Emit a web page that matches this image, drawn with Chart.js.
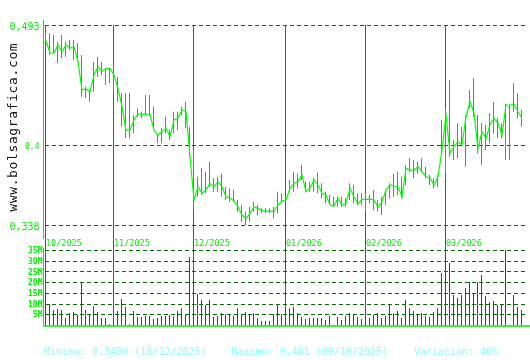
<!DOCTYPE html>
<html>
<head>
<meta charset="utf-8">
<script src="https://cdn.jsdelivr.net/npm/chart.js@4.4.1/dist/chart.umd.min.js"></script>
<style>
  html, body { margin: 0; padding: 0; background: #fff; }
  #wrap { width: 530px; height: 360px; }
</style>
</head>
<body>
<div id="wrap"><canvas id="chart" width="530" height="360"></canvas></div>
<script>
// daily closes, highs, lows (09/10/2025 .. 03/2026), one value per trading day
const closes = [
  0.4810, 0.4713, 0.4713, 0.4775, 0.4723, 0.4775, 0.4752, 0.4762, 0.4646, 0.4426,
  0.4434, 0.4413, 0.4543, 0.4607, 0.4568, 0.4594, 0.4594, 0.4543, 0.4439, 0.4297,
  0.4116, 0.4116, 0.4194, 0.4240, 0.4240, 0.4240, 0.4232, 0.4116, 0.4077, 0.4103,
  0.4129, 0.4064, 0.4194, 0.4207, 0.4271, 0.4258, 0.3909, 0.3574, 0.3677, 0.3626,
  0.3651, 0.3703, 0.3677, 0.3716, 0.3677, 0.3599, 0.3587, 0.3568, 0.3522, 0.3457,
  0.3430, 0.3471, 0.3522, 0.3509, 0.3491, 0.3488, 0.3488, 0.3483, 0.3535, 0.3568,
  0.3574, 0.3664, 0.3703, 0.3716, 0.3767, 0.3638, 0.3664, 0.3729, 0.3690, 0.3626,
  0.3612, 0.3535, 0.3527, 0.3587, 0.3535, 0.3548, 0.3664, 0.3599, 0.3543, 0.3579,
  0.3579, 0.3581, 0.3574, 0.3517, 0.3561, 0.3651, 0.3690, 0.3682, 0.3677, 0.3599,
  0.3819, 0.3806, 0.3806, 0.3832, 0.3793, 0.3754, 0.3742, 0.3690, 0.3754, 0.3961,
  0.4232, 0.3936, 0.3987, 0.4026, 0.4000, 0.4219, 0.4336, 0.4246, 0.3974, 0.4103,
  0.4052, 0.4155, 0.4207, 0.4168, 0.4077, 0.4310, 0.4310, 0.4318, 0.4258, 0.4207
];
const highs = [
  0.4866, 0.4866, 0.4853, 0.4801, 0.4853, 0.4801, 0.4814, 0.4814, 0.4788, 0.4698,
  0.4452, 0.4426, 0.4646, 0.4684, 0.4646, 0.4594, 0.4594, 0.4620, 0.4529, 0.4401,
  0.4401, 0.4401, 0.4232, 0.4284, 0.4258, 0.4388, 0.4388, 0.4297, 0.4077, 0.4129,
  0.4219, 0.4116, 0.4258, 0.4258, 0.4297, 0.4336, 0.4142, 0.3961, 0.3754, 0.3819,
  0.3793, 0.3871, 0.3742, 0.3754, 0.3780, 0.3677, 0.3664, 0.3651, 0.3574, 0.3535,
  0.3483, 0.3522, 0.3561, 0.3535, 0.3509, 0.3509, 0.3509, 0.3522, 0.3638, 0.3626,
  0.3600, 0.3729, 0.3793, 0.3780, 0.3845, 0.3716, 0.3716, 0.3742, 0.3786, 0.3703,
  0.3638, 0.3612, 0.3599, 0.3599, 0.3599, 0.3587, 0.3703, 0.3690, 0.3626, 0.3626,
  0.3626, 0.3612, 0.3651, 0.3574, 0.3599, 0.3651, 0.3703, 0.3780, 0.3793, 0.3754,
  0.3845, 0.3897, 0.3884, 0.3871, 0.3897, 0.3832, 0.3768, 0.3742, 0.3768, 0.4194,
  0.4284, 0.4504, 0.4039, 0.4168, 0.4142, 0.4230, 0.4426, 0.4517, 0.4232, 0.4168,
  0.4155, 0.4246, 0.4336, 0.4207, 0.4168, 0.4320, 0.4310, 0.4478, 0.4401, 0.4271
];
const lows = [
  0.4790, 0.4698, 0.4711, 0.4633, 0.4672, 0.4684, 0.4736, 0.4659, 0.4646, 0.4374,
  0.4362, 0.4336, 0.4413, 0.4529, 0.4543, 0.4465, 0.4478, 0.4401, 0.4336, 0.4142,
  0.4052, 0.4052, 0.4090, 0.4219, 0.4207, 0.4232, 0.4232, 0.4116, 0.4013, 0.4013,
  0.4090, 0.4039, 0.4090, 0.4116, 0.4232, 0.4129, 0.3909, 0.3500, 0.3599, 0.3612,
  0.3626, 0.3677, 0.3638, 0.3638, 0.3599, 0.3574, 0.3561, 0.3561, 0.3483, 0.3406,
  0.3380, 0.3406, 0.3483, 0.3457, 0.3471, 0.3471, 0.3471, 0.3432, 0.3471, 0.3561,
  0.3560, 0.3638, 0.3638, 0.3664, 0.3729, 0.3638, 0.3638, 0.3638, 0.3626, 0.3587,
  0.3548, 0.3535, 0.3522, 0.3522, 0.3522, 0.3522, 0.3574, 0.3548, 0.3535, 0.3535,
  0.3483, 0.3548, 0.3496, 0.3483, 0.3457, 0.3535, 0.3587, 0.3599, 0.3612, 0.3587,
  0.3690, 0.3793, 0.3742, 0.3780, 0.3793, 0.3742, 0.3690, 0.3664, 0.3677, 0.3940,
  0.3780, 0.3909, 0.3884, 0.3897, 0.3987, 0.3832, 0.4284, 0.4219, 0.3936, 0.3845,
  0.3961, 0.4013, 0.4090, 0.4052, 0.4052, 0.3884, 0.3884, 0.4258, 0.4207, 0.4142
];
// volume in millions
const volumes = [
  15.5, 10.0, 7.2, 7.7, 7.2, 3.5, 5.8, 6.3, 4.9, 19.8,
  7.2, 4.9, 9.1, 6.3, 3.5, 3.5, 0.6, 3.0, 6.8, 12.4,
  8.6, 0.6, 6.8, 4.0, 4.0, 4.4, 4.4, 3.0, 3.5, 4.4,
  4.4, 4.9, 4.4, 6.8, 8.1, 5.4, 32.0, 22.6, 14.7, 11.9,
  9.6, 11.9, 4.0, 4.4, 5.8, 5.4, 5.4, 4.4, 8.1, 5.4,
  6.3, 4.9, 5.8, 3.5, 2.1, 2.1, 2.1, 5.4, 10.0, 5.4,
  4.0, 8.1, 8.6, 5.8, 4.0, 3.0, 3.5, 3.5, 3.5, 3.5,
  2.6, 4.4, 0.3, 4.0, 2.6, 4.4, 5.8, 4.9, 4.0, 3.0,
  3.5, 3.5, 4.9, 5.8, 3.5, 4.4, 9.6, 5.8, 6.8, 3.5,
  11.9, 8.1, 6.8, 4.9, 5.8, 4.4, 4.0, 6.3, 8.1, 24.5,
  33.0, 29.2, 14.2, 12.8, 14.2, 17.5, 20.3, 15.2, 20.3, 23.6,
  13.7, 10.9, 11.4, 9.6, 9.6, 35.2, 0.3, 14.2, 8.6, 7.2
];

const monthStart = [0, 17, 37, 60, 80, 100];
const monthLabels = ['10/2025', '11/2025', '12/2025', '01/2026', '02/2026', '03/2026'];
const priceTicks = [0.338, 0.4, 0.493];
const priceLabels = ['0,338', '0,4', '0,493'];
const volTicks = [5, 10, 15, 20, 25, 30, 35];
const volLabels = ['5M', '10M', '15M', '20M', '25M', '30M', '35M'];
const statsText = ['Minimo: 0,3430 (18/12/2025)', 'Maximo: 0,481 (09/10/2025)', 'Variación: 40%'];

const mono = '"DejaVu Sans Mono", "Liberation Mono", monospace';

function noSize(scale) {
    if (scale.isHorizontal()) scale.height = 0; else scale.width = 0;
}

const decor = {
    id: 'decor',
    afterDraw(chart) {
        const ctx = chart.ctx;
        const area = chart.chartArea;
        const sx = chart.scales.x, sy = chart.scales.y, sv = chart.scales.yv;
        ctx.save();

        // bright axis lines
        ctx.strokeStyle = '#00ee00';
        ctx.lineWidth = 1;
        ctx.beginPath();
        ctx.moveTo(area.left - 1.5, 20);
        ctx.lineTo(area.left - 1.5, sy.getPixelForValue(0.338) + 14);
        ctx.moveTo(area.left - 1.5, sv.getPixelForValue(35) - 3);
        ctx.lineTo(area.left - 1.5, area.bottom);
        ctx.stroke();
        ctx.lineWidth = 1.5;
        ctx.beginPath();
        ctx.moveTo(area.left - 2, area.bottom + 0.5);
        ctx.lineTo(530, area.bottom + 0.5);
        ctx.stroke();

        // price labels
        ctx.fillStyle = '#00ee00';
        ctx.textAlign = 'right';
        ctx.textBaseline = 'middle';
        priceTicks.forEach((v, i) => {
            ctx.font = (i === 1 ? '8px ' : '10px ') + mono;
            ctx.fillText(priceLabels[i], 39.5, sy.getPixelForValue(v) + 2);
        });

        // volume labels
        ctx.font = 'bold 8px ' + mono;
        volTicks.forEach((v, i) => {
            ctx.fillText(volLabels[i], 42.5, sv.getPixelForValue(v) + 0.5);
        });

        // month labels
        ctx.textAlign = 'left';
        ctx.font = '8.5px ' + mono;
        monthStart.forEach((m, i) => {
            ctx.fillText(monthLabels[i], sx.getPixelForValue(m) + 1, 243.5);
        });

        // site name, rotated
        ctx.save();
        ctx.translate(17, 127.5);
        ctx.rotate(-Math.PI / 2);
        ctx.fillStyle = '#111';
        ctx.font = '13px ' + mono;
        ctx.textAlign = 'center';
        ctx.textBaseline = 'alphabetic';
        const site = 'www.bolsagrafica.com';
        for (let k = 0; k < site.length; k++) {
            ctx.fillText(site[k], (k - (site.length - 1) / 2) * 8.45, 0);
        }
        ctx.restore();

        // stats line
        ctx.fillStyle = '#88ffff';
        ctx.font = '10px ' + mono;
        ctx.textAlign = 'left';
        ctx.textBaseline = 'middle';
        ctx.fillText(statsText[0], 44, 352.5);
        ctx.fillText(statsText[1], 231.5, 352.5);
        ctx.fillText(statsText[2], 414, 352.5);

        ctx.restore();
    }
};

const span = 120.75;

new Chart(document.getElementById('chart'), {
    data: {
        datasets: [
            {
                type: 'line',
                data: closes.map((c, i) => ({ x: i, y: c })),
                xAxisID: 'xt',
                yAxisID: 'y',
                borderColor: '#00ff00',
                borderWidth: 1.2,
                pointRadius: 0,
                tension: 0,
                order: 0,
                clip: false
            },
            {
                type: 'bar',
                data: lows.map((l, i) => ({ x: i, y: [l, highs[i]] })),
                xAxisID: 'xr',
                yAxisID: 'y',
                backgroundColor: '#1a9fb2',
                barThickness: 1,
                grouped: false,
                borderWidth: 0,
                inflateAmount: 0,
                order: 1,
                clip: false
            },
            {
                type: 'bar',
                data: volumes.map((v, i) => ({ x: i, y: v })),
                xAxisID: 'xr',
                yAxisID: 'yv',
                backgroundColor: '#e00000',
                barThickness: 1,
                grouped: false,
                borderWidth: 0,
                inflateAmount: 0,
                order: 2,
                clip: false
            }
        ]
    },
    options: {
        responsive: false,
        animation: false,
        events: [],
        layout: { padding: { left: 45, top: 25, right: 2, bottom: 34.5 } },
        plugins: { legend: { display: false }, tooltip: { enabled: false } },
        scales: {
            x: {
                type: 'linear', min: 0, max: span, offset: false,
                afterBuildTicks: s => { s.ticks = monthStart.map(v => ({ value: v })); },
                afterFit: noSize,
                ticks: { display: false },
                grid: { color: '#0f820f', lineWidth: 1, drawTicks: false, offset: false },
                border: { display: false }
            },
            xt: {
                type: 'linear', min: -0.25, max: span - 0.25, display: false,
                offset: false, grid: { offset: false }
            },
            xr: {
                type: 'linear', min: -0.125, max: span - 0.125, display: false,
                offset: false, grid: { offset: false }
            },
            y: {
                type: 'linear', min: 0.338 - 100.5 * 0.155 / 200, max: 0.493,
                afterBuildTicks: s => { s.ticks = priceTicks.map(v => ({ value: v })); },
                afterFit: noSize,
                ticks: { display: false },
                grid: { color: '#0a6a0a', lineWidth: 1, drawTicks: false },
                border: { display: false, dash: [4, 3] }
            },
            yv: {
                type: 'linear', min: 0, max: 35 * 300.5 / 75,
                afterBuildTicks: s => { s.ticks = volTicks.map(v => ({ value: v })); },
                afterFit: noSize,
                ticks: { display: false },
                grid: { color: '#0a6a0a', lineWidth: 1, drawTicks: false },
                border: { display: false, dash: [4, 3] }
            }
        }
    },
    plugins: [decor]
});
</script>
</body>
</html>
